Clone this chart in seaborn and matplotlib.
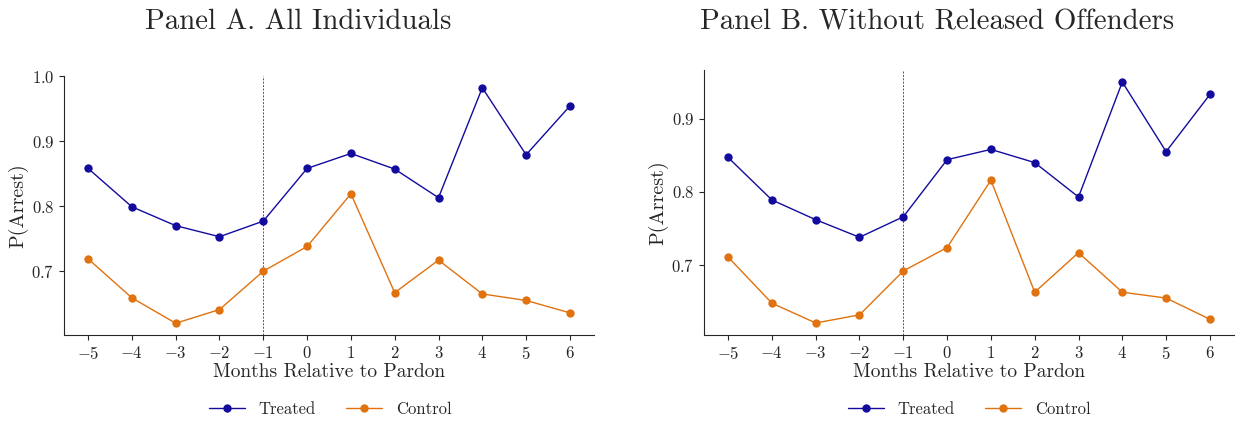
import numpy as np
import pandas as pd
import matplotlib
matplotlib.use("Agg")
import matplotlib.pyplot as plt
import seaborn as sns

months = [-5, -4, -3, -2, -1, 0, 1, 2, 3, 4, 5, 6]
a_treated = [0.858, 0.799, 0.770, 0.753, 0.777, 0.858, 0.881, 0.857, 0.813, 0.982, 0.879, 0.954]
a_control = [0.719, 0.659, 0.620, 0.641, 0.700, 0.738, 0.819, 0.667, 0.717, 0.665, 0.655, 0.636]
b_treated = [0.847, 0.789, 0.762, 0.738, 0.766, 0.844, 0.858, 0.840, 0.793, 0.950, 0.855, 0.933]
b_control = [0.711, 0.648, 0.621, 0.632, 0.692, 0.724, 0.816, 0.663, 0.717, 0.663, 0.655, 0.626]
titles = ["Panel A. All Individuals", "Panel B. Without Released Offenders"]
groups = ["Treated", "Control"]

sns.set_style("ticks")
plt.rcParams["font.family"] = ["cmr10"]
plt.rcParams["mathtext.fontset"] = "cm"
plt.rcParams["axes.formatter.use_mathtext"] = True
plt.rcParams["axes.unicode_minus"] = True

palette = {"Treated": "#130b9e", "Control": "#e0720f"}

fig = plt.figure(figsize=(12.37, 4.21), dpi=100)
ax_a = fig.add_axes([64/1237, 86/421, 530/1237, 259/421])
ax_b = fig.add_axes([704/1237, 86/421, 530/1237, 265/421])

panels = [(ax_a, a_treated, a_control), (ax_b, b_treated, b_control)]
title_x = [298/1237, 937/1237]
legend_x = [330/1237, 969/1237]

for i, (ax, tr, co) in enumerate(panels):
    df = pd.DataFrame({
        "month": months * 2,
        "p": tr + co,
        "group": ["Treated"] * len(months) + ["Control"] * len(months),
    })
    sns.lineplot(data=df, x="month", y="p", hue="group", hue_order=groups,
                 palette=palette, marker="o", markersize=6, markeredgewidth=0,
                 linewidth=1.0, ax=ax, legend=True)
    ax.axvline(-1, color="#555555", linestyle="--", linewidth=0.7, dashes=(2, 1.5), zorder=0)
    ax.set_xticks(months)
    ax.set_xlabel("Months Relative to Pardon", fontsize=14, labelpad=1)
    ax.set_ylabel("P(Arrest)", fontsize=14.5, labelpad=2)
    ax.tick_params(labelsize=12, length=3.5, width=0.8)
    sns.despine(ax=ax)
    handles, labels = ax.get_legend_handles_labels()
    ax.get_legend().remove()
    fig.legend(handles, labels, loc="center", bbox_to_anchor=(legend_x[i], 1 - 409/421),
               ncol=2, frameon=False, fontsize=12, columnspacing=1.8, handlelength=2.2)
    fig.text(title_x[i], 1 - 22/421, titles[i], ha="center", va="center", fontsize=20.8)

fig.savefig("out.png", dpi=100)
